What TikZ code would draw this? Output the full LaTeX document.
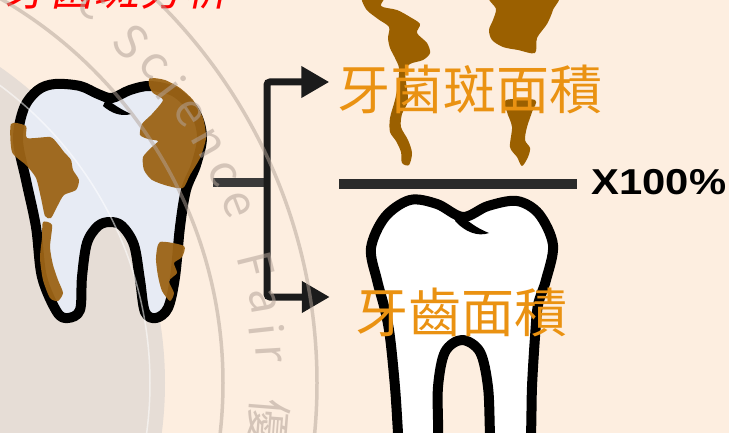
\documentclass[tikz,border=0pt]{standalone}
\usepackage{fontspec}
\usetikzlibrary{arrows.meta}
\newfontfamily\cjkfont{Noto Sans CJK TC}
\newfontfamily\cjkslant{Noto Sans CJK TC}[FakeSlant=0.2]
\newfontfamily\lsans{Liberation Sans}
\definecolor{paper}{HTML}{FDEEE0}
\definecolor{sealgrey}{HTML}{E6DDD6}
\definecolor{sealink}{HTML}{B3A398}
\definecolor{plaque}{HTML}{9C6416}
\definecolor{wisp}{HTML}{9B6000}
\definecolor{label}{HTML}{EA9212}
\definecolor{enamel}{HTML}{E7EBF4}
\definecolor{inkdark}{HTML}{1B1B1B}
\definecolor{stubgrey}{HTML}{3A3A3A}
\definecolor{fracgrey}{HTML}{2A2A2A}
\begin{document}
\begin{tikzpicture}[x=1pt,y=-1pt,
  toothline/.style={draw=black,line width=10pt,line join=round},
  plaquepatch/.style={fill=plaque,fill opacity=0.95},
  wispshape/.style={fill=wisp},
  arealabel/.style={font=\cjkfont\fontsize{53}{60}\selectfont,text=label,inner sep=0pt},
  bracket/.style={draw=inkdark,line width=7pt,rounded corners=3pt,
    arrows={Triangle[length=28pt,width=30pt]-Triangle[length=28pt,width=30pt]}},
  sealline/.style={draw=sealink,draw opacity=0.5,line width=3.5pt},
  sealletter/.style={text=sealink,text opacity=0.55,font=\cjkfont\fontsize{46}{46}\selectfont,inner sep=0pt},
]
\path[use as bounding box] (0,0) rectangle (729,433);
\clip (0,0) rectangle (729,433);
\fill[paper] (0,0) rectangle (729,433);

% seal disc behind everything
\fill[sealgrey] (-220,383) circle[radius=385pt];

% plaque wisps above the fraction bar
\fill[wispshape] plot[smooth cycle,tension=0.5] coordinates {
  (362,-5) (385,-5) (381,6) (397,10) (410,17) (420,24) (417,33) (427,43)
  (430,53) (423,60) (410,64) (405,72) (408,100) (402,114) (401,127) (408,140)
  (412,153) (409,165) (402,163) (401,152) (396,141) (390,132) (390,118)
  (395,100) (398,84) (399,68) (395,58) (390,48) (388,38) (389,27) (378,19) (366,9)};
\fill[wispshape] plot[smooth cycle,tension=0.5] coordinates {
  (491,-5) (556,-5) (553,10) (547,24) (537,38) (535,53) (518,50) (503,47)
  (492,40) (489,30) (493,20) (496,9)};
\fill[wispshape] plot[smooth cycle,tension=0.5] coordinates {
  (506,100) (535,100) (532,112) (527,127) (525,140) (530,148) (528,157)
  (522,166) (517,157) (510,147) (512,127) (507,112)};

% tooth with plaque
\filldraw[toothline,fill=enamel] plot[smooth cycle,tension=0.55] coordinates {
  (112,98) (130,90) (150,86) (175,92) (195,112) (202,137) (196,165) (186,190)
  (180,227) (175,277) (168,308) (156,318) (145,312) (140,280) (134,245)
  (122,226) (110,222) (98,226) (87,243) (82,277) (80,310) (68,318) (57,312)
  (42,277) (36,227) (26,180) (18,140) (24,108) (38,90) (55,84) (80,86) (98,94)};
\fill (106,99) .. controls (116,106) and (122,110) .. (131,114)
  .. controls (121,117) and (111,113) .. (103,106) -- cycle;
\fill[plaquepatch] plot[smooth cycle,tension=0.4] coordinates {
  (150,78) (165,80) (180,88) (193,100) (203,118) (206,138) (200,158) (190,175)
  (183,188) (168,186) (152,180) (144,170) (143,157) (152,147) (158,141)
  (148,139) (140,135) (142,124) (152,114) (163,100) (153,93) (149,85)};
\fill[plaquepatch] plot[smooth cycle,tension=0.4] coordinates {
  (11,124) (26,126) (27,138) (50,137) (57,143) (64,152) (71,160) (73,170)
  (79,180) (76,190) (64,195) (58,205) (51,218) (45,216) (41,198) (36,178)
  (26,165) (12,152)};
\fill[plaquepatch] plot[smooth cycle,tension=0.4] coordinates {
  (43,222) (52,225) (50,247) (53,265) (58,280) (63,293) (58,301) (50,298)
  (43,280) (40,258) (42,238)};
\fill[plaquepatch] plot[smooth cycle,tension=0.4] coordinates {
  (160,242) (184,246) (182,257) (174,263) (177,273) (169,281) (174,293)
  (170,301) (162,291) (158,276) (156,258)};

% clean tooth under the fraction bar
\filldraw[toothline,fill=white] plot[smooth cycle,tension=0.55] coordinates {
  (463,217) (488,206) (517,201) (539,214) (553,245) (546,280) (538,305)
  (535,337) (532,387) (531,433) (528,470) (510,478) (492,468) (490,433)
  (488,387) (480,352) (462,340) (445,352) (438,387) (438,433) (435,470)
  (417,478) (400,468) (398,433) (395,387) (390,337) (385,310) (377,280)
  (371,248) (385,217) (410,200) (437,204)};
\fill (458,213) .. controls (468,221) and (476,228) .. (489,233)
  .. controls (478,237) and (465,232) .. (455,221) -- cycle;

% labels
\node[arealabel] (plaqueLbl) at (470,89) {牙菌斑面積};
\node[arealabel] (toothLbl) at (461,312) {牙齒面積};
\node[anchor=base east,text=red,inner sep=0pt,
  font=\cjkslant\fontsize{45}{50}\selectfont] (title) at (230,6) {(二)牙菌斑分析};
\node[font=\lsans\bfseries\fontsize{36}{40}\selectfont,xscale=1.16,inner sep=0pt]
  (pct) at (659,182) {X100\%};

% split arrows from the plaque tooth
\coordinate (fork) at (267,183);
\coordinate (stubEnd) at (213,183);
\coordinate (upTip) at ([xshift=-8pt,yshift=7pt]plaqueLbl.west);
\coordinate (downTip) at ([xshift=-25pt,yshift=15pt]toothLbl.west);
\draw[stubgrey,line width=9pt] (stubEnd) -- (fork);
\draw[bracket] (upTip) -| (fork) |- (downTip);

% fraction bar
\coordinate (fracL) at (339,184);
\coordinate (fracR) at (577,184);
\draw[fracgrey,line width=10pt] (fracL) -- (fracR);

% seal rings and lettering
\draw[white,opacity=0.55,line width=1.5pt] (-220,383) circle[radius=370pt];
\draw[sealline] (-220,383) circle[radius=443pt];
\draw[sealline] (-220,383) circle[radius=537pt];
\foreach \ch/\a in {c/50.5,S/44.2,c/40.4,i/37.0,e/33.4,n/29.3,c/25.3,e/21.3,
                    F/14.0,a/9.6,i/6.2,r/3.4,優/-4.5}{
  \node[sealletter,rotate=\a-90] at ({-220+490*cos(\a)},{383-490*sin(\a)}) {\ch};
}
\end{tikzpicture}
\end{document}
